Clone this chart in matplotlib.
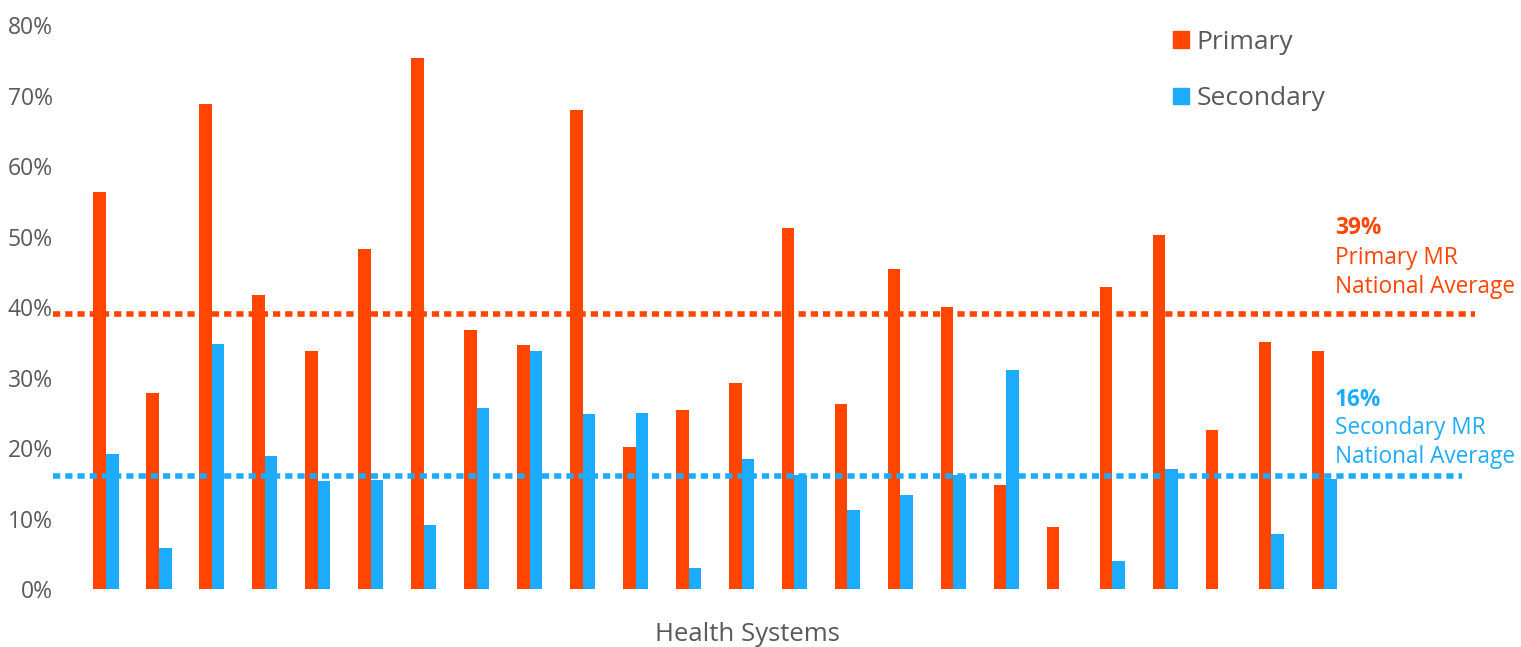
import numpy as np
import matplotlib.pyplot as plt
from matplotlib.patches import Patch

# share of patients per health system (%)
primary = [56.4, 27.8, 68.8, 41.8, 33.8, 48.3, 75.4, 36.8, 34.7, 68.0, 20.2, 25.4,
           29.2, 51.2, 26.3, 45.4, 40.1, 14.8, 8.8, 42.9, 50.3, 22.6, 35.1, 33.8]
secondary = [19.2, 5.8, 34.8, 18.9, 15.3, 15.5, 9.1, 25.7, 33.8, 24.9, 25.0, 3.0,
             18.5, 16.2, 11.2, 13.4, 16.2, 31.1, 0.0, 4.0, 17.1, 0.0, 7.8, 15.6]
primary_avg = 39
secondary_avg = 16
yticks = [0, 10, 20, 30, 40, 50, 60, 70, 80]

orange = '#FF4500'
blue = '#1DACFC'
grey = '#595959'

plt.rcParams['font.family'] = ['Open Sans', 'DejaVu Sans']

fig = plt.figure(figsize=(15.21, 6.47), dpi=100)
ax = fig.add_axes([53 / 1521, 0.0892, 1430 / 1521, 0.8717])

x = np.arange(len(primary))
w = 0.238
ax.bar(x - w / 2, primary, w, color=orange)
ax.bar(x + w / 2, secondary, w, color=blue)

ax.hlines(primary_avg, -1, 25.85, color=orange, lw=4, linestyle=(0, (1.3, 0.9)))
ax.hlines(secondary_avg, -1, 25.6, color=blue, lw=4, linestyle=(0, (1.3, 0.9)))

ax.set_xlim(-1, 26)
ax.set_ylim(0, 80)
ax.set_yticks(yticks)
ax.set_yticklabels([f'{t}%' for t in yticks])
ax.set_xticks([])
ax.tick_params(axis='y', length=0, pad=0, labelsize=16.5, labelcolor=grey)
for s in ax.spines.values():
    s.set_visible(False)
fig.text(747 / 1521, 0.02, 'Health Systems', fontsize=18.5, color=grey, ha='center', va='center')

# national average labels
tx = 23.2
fs = 16.3
ax.text(tx, 51.2, f'{primary_avg}%', color=orange, fontsize=fs, fontweight='bold', va='center')
ax.text(tx, 47.0, 'Primary MR', color=orange, fontsize=fs, va='center')
ax.text(tx, 42.9, 'National Average', color=orange, fontsize=fs, va='center')
ax.text(tx, 26.9, f'{secondary_avg}%', color=blue, fontsize=fs, fontweight='bold', va='center')
ax.text(tx, 22.9, 'Secondary MR', color=blue, fontsize=fs, va='center')
ax.text(tx, 18.8, 'National Average', color=blue, fontsize=fs, va='center')

handles = [Patch(color=orange, label='Primary'), Patch(color=blue, label='Secondary')]
fig.legend(handles=handles, loc='upper left', bbox_to_anchor=(1149 / 1521, 1 - 6 / 647),
           frameon=False, fontsize=19, labelcolor=grey, handlelength=0.6, handleheight=0.6,
           handletextpad=0.3, labelspacing=1.2)

fig.savefig('out.png', dpi=100)
